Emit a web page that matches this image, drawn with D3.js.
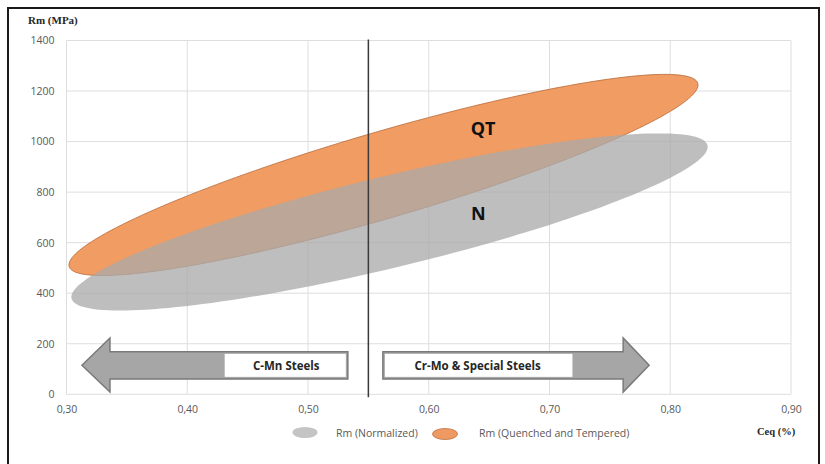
<!DOCTYPE html>
<html>
<head>
<meta charset="utf-8">
<script src="https://cdn.jsdelivr.net/npm/d3@7"></script>
<style>
  html, body { margin: 0; padding: 0; background: #fff; }
  svg { display: block; }
</style>
</head>
<body>
<svg id="chart" width="825" height="464"></svg>
<script>
// ---------------- data ----------------
const xTicks = [0.30, 0.40, 0.50, 0.60, 0.70, 0.80, 0.90];
const xTickLabels = ["0,30", "0,40", "0,50", "0,60", "0,70", "0,80", "0,90"];
const yTicks = [0, 200, 400, 600, 800, 1000, 1200, 1400];
const yTickLabels = ["0", "200", "400", "600", "800", "1000", "1200", "1400"];

// strength bands (ellipses): major-axis ends in (Ceq, Rm), vertical half-width in MPa
const seriesNames = ["Rm (Normalized)", "Rm (Quenched and Tempered)"];
const seriesShort = ["N", "QT"];
const bandStartCeq = [0.304, 0.302];
const bandStartRm = [385, 512];
const bandEndCeq = [0.831, 0.823];
const bandEndRm = [979, 1224];
const bandHalfWidthRm = [186, 178];
const bandLabelCeq = [0.641, 0.645];
const bandLabelRm = [717, 1054];

// steel family boundary and region arrows
const boundaryCeq = 0.55;
const regionLabels = ["C-Mn Steels", "Cr-Mo & Special Steels"];
const arrowTailCeq = [0.533, 0.562];
const arrowHeadBaseCeq = [0.336, 0.761];
const arrowTipCeq = [0.3128, 0.7825];
const labelBoxEndCeq = [0.431, 0.719];
const arrowShaftRm = [61, 168];
const arrowHeadRm = [9, 223];
const arrowAxisRm = 115;

const yTitle = "Rm (MPa)";
const xTitle = "Ceq (%)";

// ---------------- drawing ----------------
const svg = d3.select("#chart");
const x = d3.scaleLinear().domain([0.30, 0.90]).range([66.5, 791]);
const y = d3.scaleLinear().domain([0, 1400]).range([394.3, 40.5]);

// outer frame
svg.append("rect").attr("x", 8).attr("y", 8).attr("width", 811).attr("height", 470)
  .attr("fill", "none").attr("stroke", "#1a1a1a").attr("stroke-width", 2);

// gridlines
const grid = svg.append("g");
grid.selectAll("line.h").data(yTicks).join("line")
  .attr("x1", x(0.30)).attr("x2", x(0.90))
  .attr("y1", d => y(d)).attr("y2", d => y(d))
  .attr("stroke", "#dedede").attr("stroke-width", 1);
grid.selectAll("line.v").data(xTicks).join("line")
  .attr("x1", d => x(d)).attr("x2", d => x(d))
  .attr("y1", y(1400)).attr("y2", y(0))
  .attr("stroke", "#dedede").attr("stroke-width", 1);

// axes (labels only)
const yAxis = d3.axisLeft(y).tickValues(yTicks).tickSize(0).tickPadding(12)
  .tickFormat((d, i) => yTickLabels[i]);
const gy = svg.append("g").attr("transform", `translate(${x(0.30)},0)`).call(yAxis);
const xAxis = d3.axisBottom(x).tickValues(xTicks).tickSize(0).tickPadding(11)
  .tickFormat((d, i) => xTickLabels[i]);
const gx = svg.append("g").attr("transform", `translate(0,${y(0)})`).call(xAxis);
[gx, gy].forEach(g => {
  g.select(".domain").remove();
  g.selectAll("text").attr("fill", "#595959")
    .style("font-family", "'Open Sans', sans-serif").style("font-size", "10.5px");
});

// ellipse bands
function bandPath(i) {
  const cC = (bandStartCeq[i] + bandEndCeq[i]) / 2;
  const cR = (bandStartRm[i] + bandEndRm[i]) / 2;
  const aC = (bandEndCeq[i] - bandStartCeq[i]) / 2;
  const aR = (bandEndRm[i] - bandStartRm[i]) / 2;
  const h = bandHalfWidthRm[i];
  const pts = d3.range(0, 180).map(k => {
    const t = k / 180 * 2 * Math.PI;
    return [cC + Math.cos(t) * aC, cR + Math.cos(t) * aR + Math.sin(t) * h];
  });
  return d3.line().x(d => x(d[0])).y(d => y(d[1])).curve(d3.curveLinearClosed)(pts);
}
const bandFill = ["#a9a9a9", "#f09c62"];
const bandOpacity = [0.76, 1];
const bandStroke = ["none", "#b8693a"];
// draw QT first, N on top
[1, 0].forEach(i => {
  svg.append("path").attr("d", bandPath(i))
    .attr("fill", bandFill[i]).attr("fill-opacity", bandOpacity[i])
    .attr("stroke", bandStroke[i]).attr("stroke-width", 0.8);
});

// boundary line
svg.append("line")
  .attr("x1", x(boundaryCeq)).attr("x2", x(boundaryCeq))
  .attr("y1", y(1400) - 1).attr("y2", y(0) + 3)
  .attr("stroke", "#3a3a3a").attr("stroke-width", 1.5);

// band labels
seriesShort.forEach((s, i) => {
  svg.append("text").attr("x", x(bandLabelCeq[i])).attr("y", y(bandLabelRm[i]))
    .attr("text-anchor", "middle").attr("dominant-baseline", "central")
    .style("font-family", "'Open Sans', sans-serif").style("font-size", "18px")
    .style("font-weight", "bold").attr("fill", "#111").text(s);
});

// region arrows
regionLabels.forEach((lab, i) => {
  const pts = [
    [arrowTailCeq[i], arrowShaftRm[1]],
    [arrowHeadBaseCeq[i], arrowShaftRm[1]],
    [arrowHeadBaseCeq[i], arrowHeadRm[1]],
    [arrowTipCeq[i], arrowAxisRm],
    [arrowHeadBaseCeq[i], arrowHeadRm[0]],
    [arrowHeadBaseCeq[i], arrowShaftRm[0]],
    [arrowTailCeq[i], arrowShaftRm[0]]
  ];
  svg.append("path")
    .attr("d", d3.line().x(d => x(d[0])).y(d => y(d[1])).curve(d3.curveLinearClosed)(pts))
    .attr("fill", "#a6a6a6").attr("stroke", "#7a7a7a").attr("stroke-width", 1.5)
    .attr("stroke-linejoin", "miter");
  const bx0 = Math.min(x(arrowTailCeq[i]), x(labelBoxEndCeq[i]));
  const bx1 = Math.max(x(arrowTailCeq[i]), x(labelBoxEndCeq[i]));
  svg.append("rect")
    .attr("x", bx0 + (i === 0 ? 0 : 2)).attr("y", y(arrowShaftRm[1]) + 2)
    .attr("width", bx1 - bx0 - 2).attr("height", y(arrowShaftRm[0]) - y(arrowShaftRm[1]) - 4)
    .attr("fill", "#fff");
  svg.append("text")
    .attr("x", (bx0 + bx1) / 2).attr("y", y(arrowAxisRm))
    .attr("text-anchor", "middle").attr("dominant-baseline", "central")
    .style("font-family", "'Open Sans', sans-serif").style("font-size", "11.5px")
    .style("font-weight", "bold").attr("fill", "#262626").text(lab);
});

// axis titles
svg.append("text").attr("x", 28).attr("y", 24)
  .style("font-family", "'Liberation Serif', serif").style("font-size", "11px")
  .style("font-weight", "bold").attr("fill", "#262626").text(yTitle);
svg.append("text").attr("x", 757).attr("y", 435)
  .style("font-family", "'Liberation Serif', serif").style("font-size", "10.5px")
  .style("font-weight", "bold").attr("fill", "#262626").text(xTitle);

// legend
const legX = [305, 445];
const legY = [432.5, 434];
const legTextX = [336, 479];
const legIconFill = ["#c4c4c4", "#ee9a62"];
const legIconStroke = ["none", "#c07040"];
seriesNames.forEach((name, i) => {
  svg.append("ellipse").attr("cx", legX[i]).attr("cy", legY[i]).attr("rx", 12.5).attr("ry", 5.5)
    .attr("fill", legIconFill[i]).attr("stroke", legIconStroke[i]).attr("stroke-width", 0.8);
  svg.append("text").attr("x", legTextX[i]).attr("y", 433)
    .attr("dominant-baseline", "central")
    .style("font-family", "'Open Sans', sans-serif").style("font-size", "10.5px")
    .attr("fill", "#595959").text(name);
});
</script>
</body>
</html>
